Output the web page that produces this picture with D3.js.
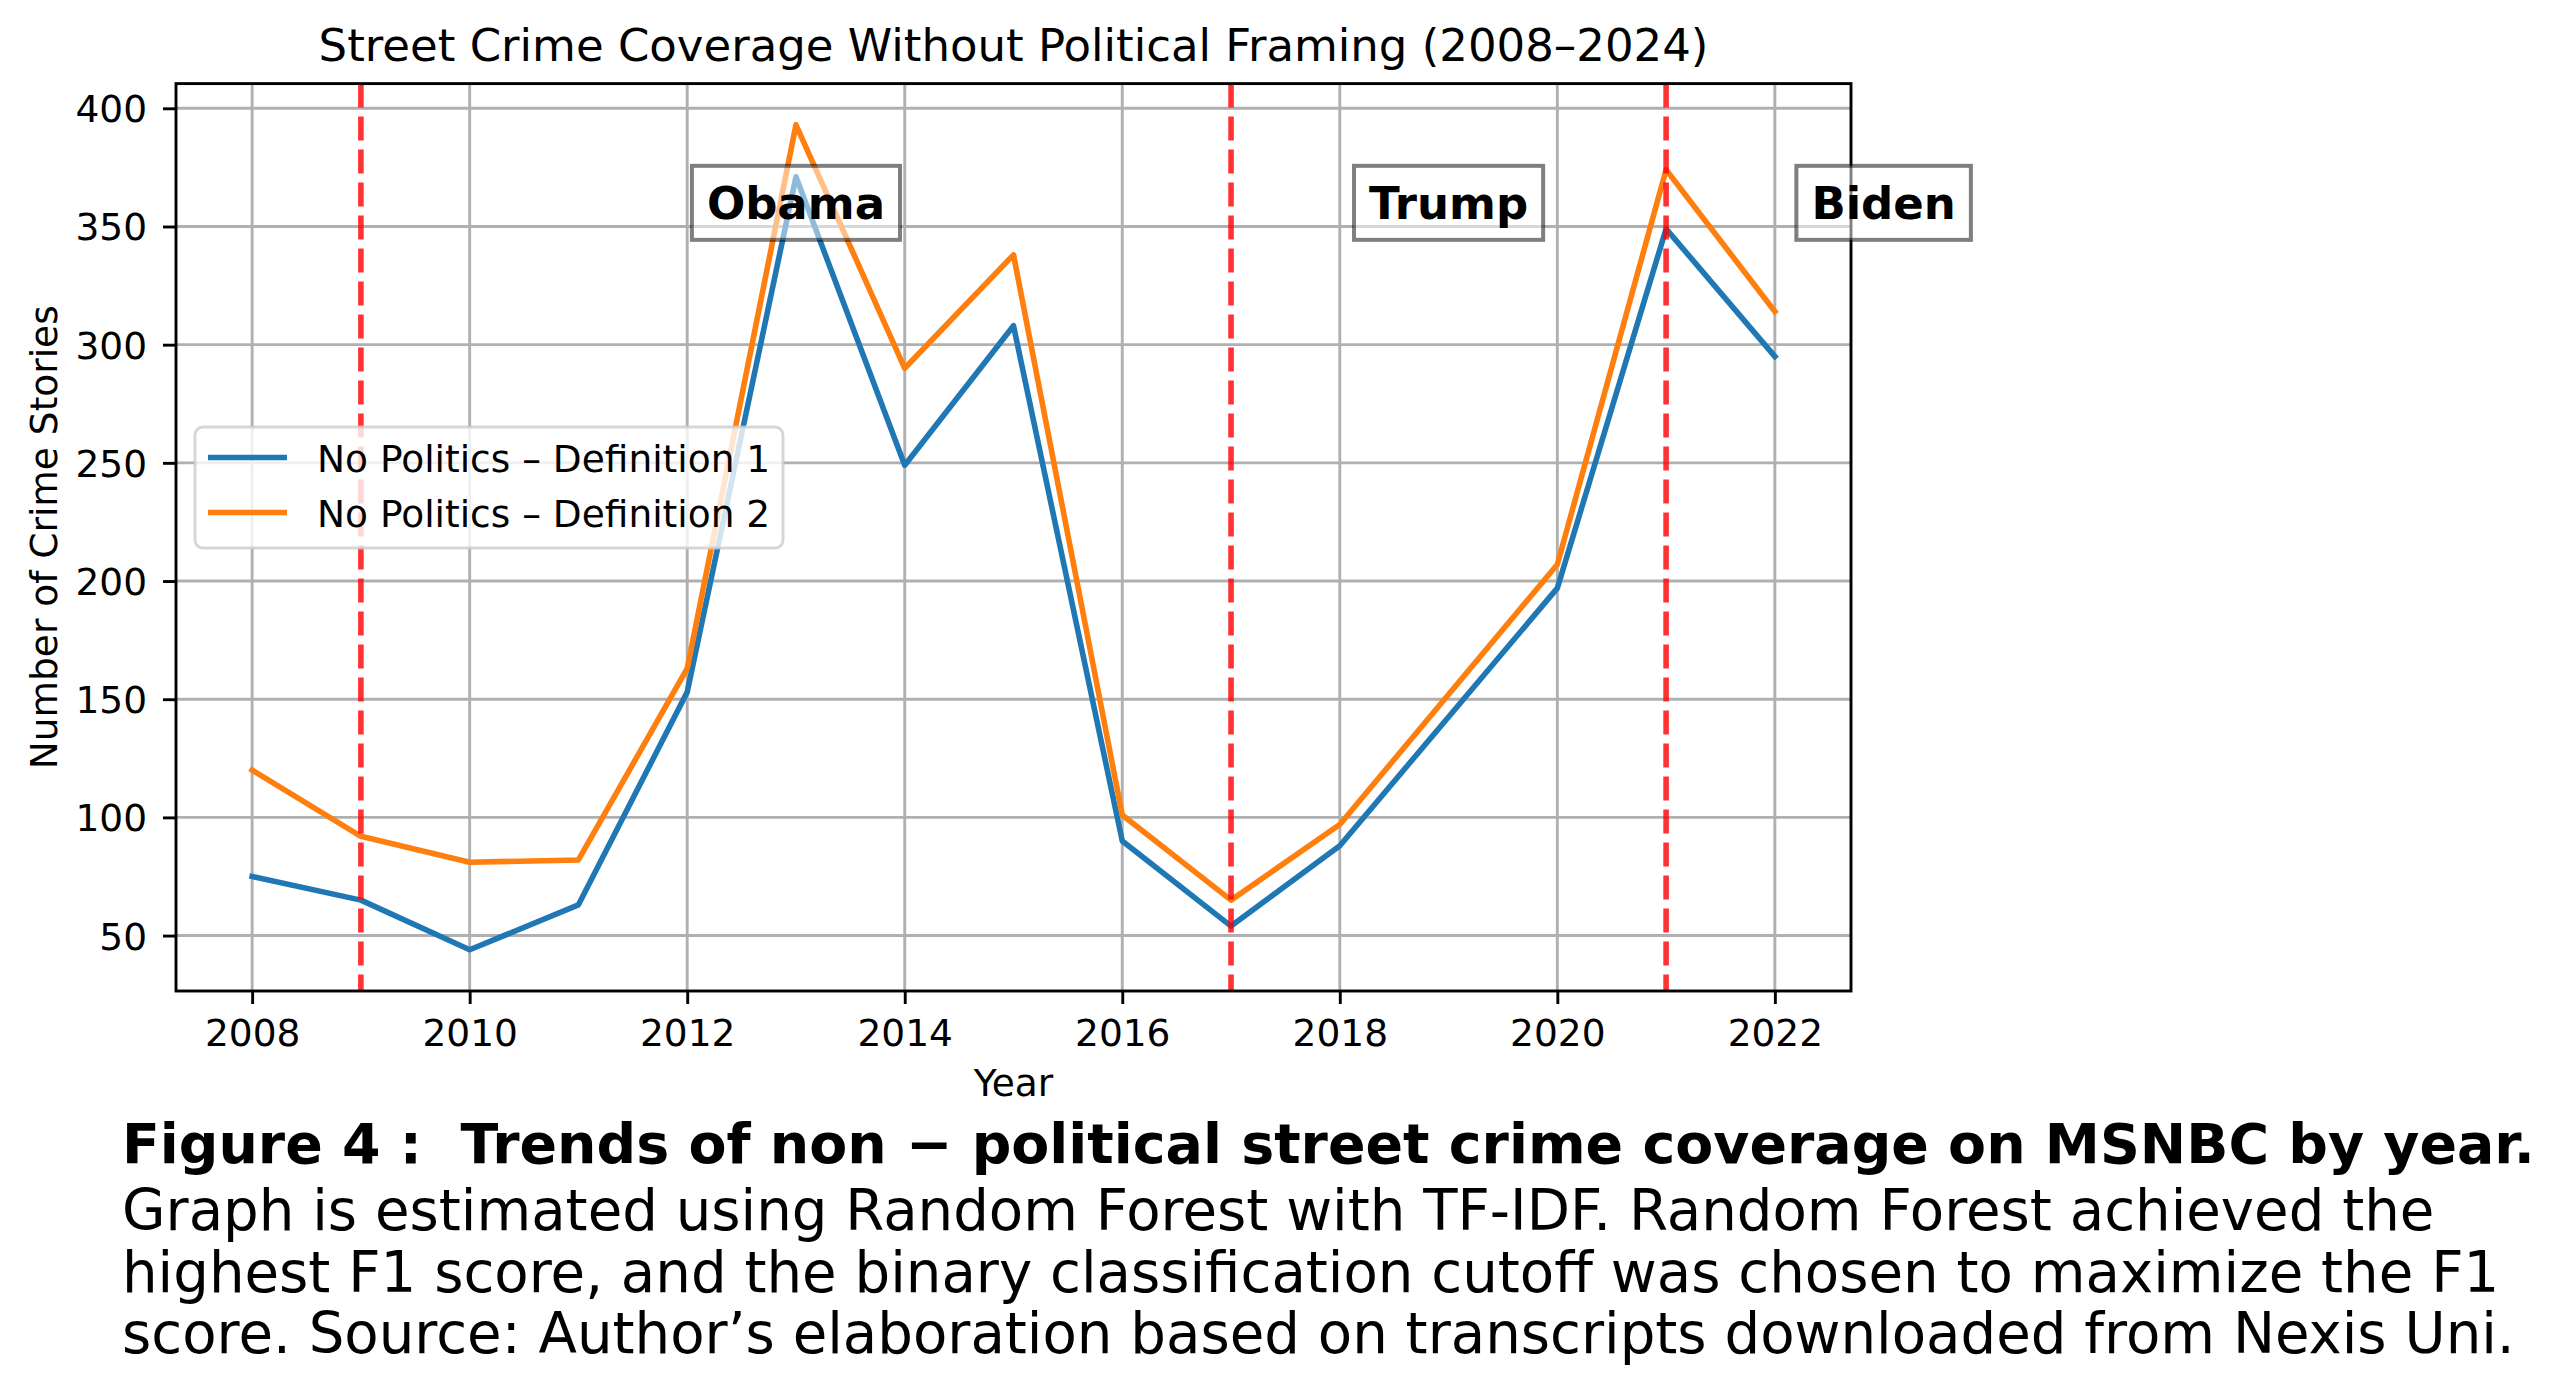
<!DOCTYPE html>
<html>
<head>
<meta charset="utf-8">
<script src="https://cdn.jsdelivr.net/npm/d3@7"></script>
<style>
  html, body { margin: 0; padding: 0; background: #ffffff; }
  svg { display: block; }
  text { font-family: "DejaVu Sans", sans-serif; }
</style>
</head>
<body>
<script>
// ---------------- data ----------------
const years = [2008, 2009, 2010, 2011, 2012, 2013, 2014, 2015, 2016, 2017, 2018, 2020, 2021, 2022];
const definition1 = [75, 65, 44, 63, 153, 371, 249, 308, 90, 54, 88, 197, 349, 295];
const definition2 = [120, 92, 81, 82, 163, 393, 290, 338, 101, 65, 97, 207, 374, 314];
const seriesNames = ["No Politics – Definition 1", "No Politics – Definition 2"];
const xTickValues = [2008, 2010, 2012, 2014, 2016, 2018, 2020, 2022];
const yTickValues = [50, 100, 150, 200, 250, 300, 350, 400];
const eraStartYears = [2009, 2017, 2021];
const eraNames = ["Obama", "Trump", "Biden"];
const eraLabelYears = [2013, 2019, 2023];
const eraLabelValue = 360;
const chartTitle = "Street Crime Coverage Without Political Framing (2008–2024)";
const xLabel = "Year";
const yLabel = "Number of Crime Stories";
const captionBold = "Figure 4 :  Trends of non − political street crime coverage on MSNBC by year.";
const captionLines = [
  "Graph is estimated using Random Forest with TF-IDF. Random Forest achieved the",
  "highest F1 score, and the binary classification cutoff was chosen to maximize the F1",
  "score. Source: Author’s elaboration based on transcripts downloaded from Nexis Uni."
];

// ---------------- layout ----------------
const W = 2560, H = 1392;
const plot = { left: 176, right: 1851, top: 83.6, bottom: 991 };
const colors = ["#1f77b4", "#ff7f0e"];
const tickFont = 37.5, titleFont = 45, capFont = 56.2;
const lw = 5.6, thin = 2.9;

const svg = d3.select("body").append("svg")
  .attr("width", W).attr("height", H)
  .attr("viewBox", `0 0 ${W} ${H}`);
svg.append("rect").attr("width", W).attr("height", H).attr("fill", "#ffffff");

// domains with matplotlib-like 5% margins
const xExt = d3.extent(years);
const xPad = (xExt[1] - xExt[0]) * 0.05;
const allVals = definition1.concat(definition2);
const yExt = d3.extent(allVals);
const yPad = (yExt[1] - yExt[0]) * 0.05;

const x = d3.scaleLinear().domain([xExt[0] - xPad, xExt[1] + xPad]).range([plot.left, plot.right]);
const y = d3.scaleLinear().domain([yExt[0] - yPad, yExt[1] + yPad]).range([plot.bottom, plot.top]);

svg.append("defs").append("clipPath").attr("id", "clip")
  .append("rect").attr("x", plot.left).attr("y", plot.top)
  .attr("width", plot.right - plot.left).attr("height", plot.bottom - plot.top);

// grid
const grid = svg.append("g");
grid.selectAll("line.v").data(xTickValues).join("line")
  .attr("x1", d => x(d)).attr("x2", d => x(d))
  .attr("y1", plot.top).attr("y2", plot.bottom)
  .attr("stroke", "#b0b0b0").attr("stroke-width", thin);
grid.selectAll("line.h").data(yTickValues).join("line")
  .attr("x1", plot.left).attr("x2", plot.right)
  .attr("y1", d => y(d)).attr("y2", d => y(d))
  .attr("stroke", "#b0b0b0").attr("stroke-width", thin);

// series lines
const lineGen = d3.line().x((d, i) => x(years[i])).y(d => y(d));
const dataG = svg.append("g").attr("clip-path", "url(#clip)");
[definition1, definition2].forEach((vals, k) => {
  dataG.append("path").datum(vals)
    .attr("d", lineGen)
    .attr("fill", "none")
    .attr("stroke", colors[k])
    .attr("stroke-width", lw)
    .attr("stroke-linejoin", "round")
    .attr("stroke-linecap", "square");
});

// era vertical lines
dataG.selectAll("line.era").data(eraStartYears).join("line")
  .attr("x1", d => x(d)).attr("x2", d => x(d))
  .attr("y1", plot.top).attr("y2", plot.bottom)
  .attr("stroke", "red").attr("stroke-opacity", 0.8)
  .attr("stroke-width", lw).attr("stroke-dasharray", "24,9");

// axes
const xAxis = d3.axisBottom(x).tickValues(xTickValues).tickFormat(d3.format("d"))
  .tickSize(13).tickPadding(10);
const xg = svg.append("g").attr("transform", `translate(0,${plot.bottom})`).call(xAxis);
xg.select(".domain").remove();
xg.selectAll(".tick line").attr("stroke", "#000").attr("stroke-width", thin);
xg.selectAll(".tick text").attr("font-size", tickFont).attr("fill", "#000")
  .attr("font-family", "DejaVu Sans").attr("dy", null).attr("y", 55);

const yAxis = d3.axisLeft(y).tickValues(yTickValues).tickFormat(d3.format("d"))
  .tickSize(13).tickPadding(16);
const yg = svg.append("g").attr("transform", `translate(${plot.left},0)`).call(yAxis);
yg.select(".domain").remove();
yg.selectAll(".tick line").attr("stroke", "#000").attr("stroke-width", thin);
yg.selectAll(".tick text").attr("font-size", tickFont).attr("fill", "#000")
  .attr("font-family", "DejaVu Sans").attr("dy", "0.36em").attr("x", -29);

// spines
svg.append("rect")
  .attr("x", plot.left).attr("y", plot.top)
  .attr("width", plot.right - plot.left).attr("height", plot.bottom - plot.top)
  .attr("fill", "none").attr("stroke", "#000").attr("stroke-width", thin);

// axis labels and title
svg.append("text").attr("x", (plot.left + plot.right) / 2).attr("y", 1096)
  .attr("text-anchor", "middle").attr("font-size", tickFont).text(xLabel);
svg.append("text")
  .attr("transform", `translate(57,${(plot.top + plot.bottom) / 2}) rotate(-90)`)
  .attr("text-anchor", "middle").attr("font-size", tickFont).text(yLabel);
svg.append("text").attr("x", (plot.left + plot.right) / 2).attr("y", 61)
  .attr("text-anchor", "middle").attr("font-size", titleFont).text(chartTitle);

// legend
const leg = svg.append("g");
leg.append("rect").attr("x", 195).attr("y", 427).attr("width", 588).attr("height", 121)
  .attr("rx", 8).attr("fill", "#ffffff").attr("fill-opacity", 0.8)
  .attr("stroke", "#cccccc").attr("stroke-opacity", 0.8).attr("stroke-width", thin);
seriesNames.forEach((name, k) => {
  const cy = 457.5 + k * 55;
  leg.append("line").attr("x1", 208).attr("x2", 287).attr("y1", cy).attr("y2", cy)
    .attr("stroke", colors[k]).attr("stroke-width", lw);
  leg.append("text").attr("x", 317).attr("y", cy + 14)
    .attr("font-size", tickFont).text(name);
});

// era annotations
eraNames.forEach((name, k) => {
  const cx = x(eraLabelYears[k]), cy = y(eraLabelValue);
  const g = svg.append("g");
  const t = g.append("text").attr("x", cx).attr("y", cy + 16)
    .attr("text-anchor", "middle").attr("font-size", titleFont)
    .attr("font-weight", "bold").text(name);
  const w = t.node().getComputedTextLength() + 30;
  g.insert("rect", "text").attr("x", cx - w / 2).attr("y", cy - 37)
    .attr("width", w).attr("height", 74)
    .attr("fill", "#ffffff").attr("fill-opacity", 0.5)
    .attr("stroke", "#000").attr("stroke-opacity", 0.5).attr("stroke-width", 4);
});

// caption
const cap = svg.append("g");
const boldText = cap.append("text").attr("x", 122).attr("y", 1163).attr("font-size", capFont)
  .attr("font-weight", "bold").style("white-space", "pre").text(captionBold);
// fit bold line to the width it spans in the reference figure (x 122 → 2535)
const boldW = boldText.node().getComputedTextLength();
boldText.attr("font-size", capFont * (2535 - 122) / boldW);
captionLines.forEach((line, i) => {
  cap.append("text").attr("x", 122).attr("y", 1230 + i * 61.7)
    .attr("font-size", capFont).style("white-space", "pre").text(line);
});
</script>
</body>
</html>
